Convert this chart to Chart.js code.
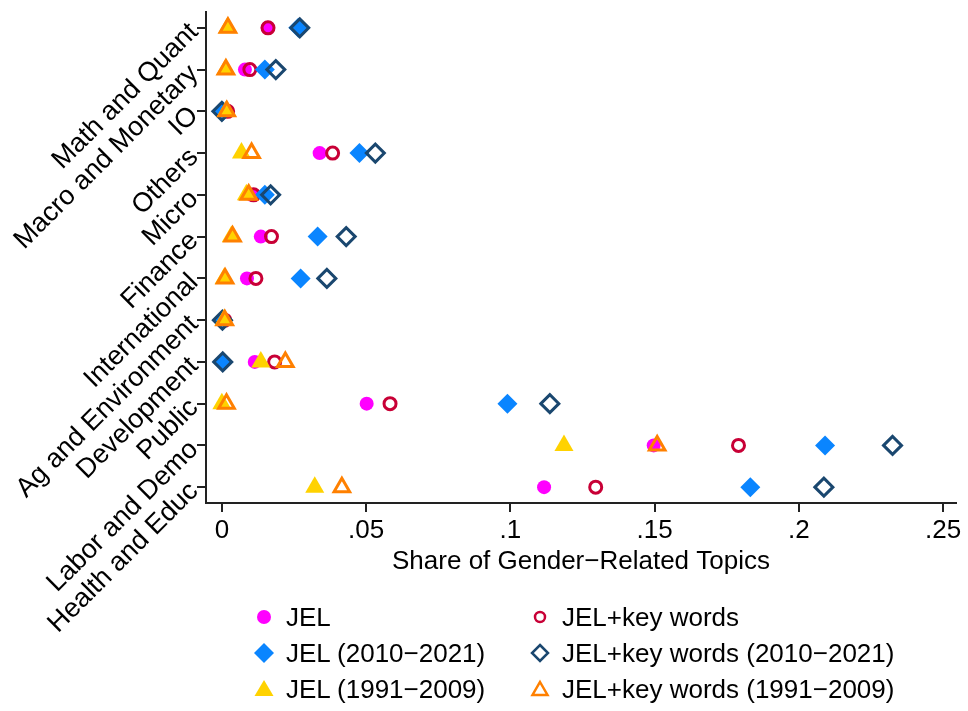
<!DOCTYPE html>
<html>
<head>
<meta charset="utf-8">
<script src="https://cdn.jsdelivr.net/npm/chart.js@4.4.1/dist/chart.umd.min.js"></script>
<style>
html,body{margin:0;padding:0;background:#fff;}
#wrap{position:relative;width:968px;height:711px;overflow:hidden;background:#fff;}
#c{position:absolute;left:0;top:0;}
.mk{position:absolute;width:24px;height:24px;}
.lt{position:absolute;font-family:"Liberation Sans",Arial,sans-serif;font-size:26px;line-height:26px;color:#000;white-space:nowrap;}
</style>
</head>
<body>
<div id="wrap">
<canvas id="c" width="968" height="711"></canvas>
<div id="legend"></div>
</div>
<script>
// Categories (top to bottom)
const categories = ["Math and Quant","Macro and Monetary","IO","Others","Micro","Finance","International","Ag and Environment","Development","Public","Labor and Demo","Health and Educ"];

// Series values (share of gender-related topics)
const jel        = [0.0159, 0.0080, 0.0015, 0.0339, 0.0103, 0.0135, 0.0087, 0.0008, 0.0114, 0.0502, 0.1497, 0.1117];
const jelKw      = [0.0160, 0.0097, 0.0020, 0.0384, 0.0110, 0.0172, 0.0118, 0.0010, 0.0183, 0.0583, 0.1791, 0.1296];
const jel2010    = [0.0265, 0.0149, 0.0003, 0.0477, 0.0149, 0.0332, 0.0273, 0.0003, 0.0003, 0.0990, 0.2091, 0.1832];
const jelKw2010  = [0.0270, 0.0187, 0.0000, 0.0532, 0.0169, 0.0431, 0.0364, 0.0002, 0.0003, 0.1137, 0.2325, 0.2087];
const jel1991    = [0.0020, 0.0013, 0.0015, 0.0068, 0.0085, 0.0033, 0.0008, 0.0007, 0.0135, 0.0000, 0.1186, 0.0322];
const jelKw1991  = [0.0021, 0.0014, 0.0017, 0.0103, 0.0093, 0.0037, 0.0011, 0.0010, 0.0220, 0.0016, 0.1509, 0.0416];

// Tick labels
const xTickValues = [0, 0.05, 0.1, 0.15, 0.2, 0.25];
const xTickLabels = ["0", ".05", ".1", ".15", ".2", ".25"];
const xTitle = "Share of Gender\u2212Related Topics";

const seriesNames = ["JEL", "JEL+key words", "JEL (2010\u22122021)", "JEL+key words (2010\u22122021)", "JEL (1991\u22122009)", "JEL+key words (1991\u22122009)"];

const FONT = "'Liberation Sans', Arial, Helvetica, sans-serif";

function pts(arr){ return arr.map((v,i)=>({x:v, y:i+1})); }

const styles = [
  {pointStyle:'circle',   radius:7,  bg:'#FF00FF', bc:'#FF00FF', bw:0, order:6},
  {pointStyle:'circle',   radius:6,  bg:'rgba(0,0,0,0)', bc:'#C80036', bw:3, order:5},
  {pointStyle:'rectRot',  radius:10, bg:'#0A85FF', bc:'#0A85FF', bw:0, order:4},
  {pointStyle:'rectRot',  radius:9,  bg:'rgba(0,0,0,0)', bc:'#1A476F', bw:3, order:3},
  {pointStyle:'triangle', radius:11, bg:'#FFD200', bc:'#FFD200', bw:0, order:2},
  {pointStyle:'triangle', radius:9,  bg:'rgba(0,0,0,0)', bc:'#FF8000', bw:3, order:1}
];
const seriesData = [jel, jelKw, jel2010, jelKw2010, jel1991, jelKw1991];

const datasets = seriesData.map((arr,k)=>({
  label: seriesNames[k],
  data: pts(arr),
  pointStyle: styles[k].pointStyle,
  pointRadius: styles[k].radius,
  pointBackgroundColor: styles[k].bg,
  pointBorderColor: styles[k].bc,
  pointBorderWidth: styles[k].bw,
  order: styles[k].order,
  showLine: false
}));

new Chart(document.getElementById('c'), {
  type: 'scatter',
  data: { datasets },
  options: {
    responsive: false,
    devicePixelRatio: 1,
    animation: false,
    events: [],
    layout: { padding: { left: 0, top: 10, right: 10, bottom: 134 } },
    plugins: { legend: { display: false }, tooltip: { enabled: false } },
    scales: {
      x: {
        type: 'linear',
        min: -0.0055,
        max: 0.2545,
        afterBuildTicks: s => { s.ticks = xTickValues.map(v=>({value:v})); },
        afterFit: s => { s.height = 74; s.paddingLeft = 0; s.paddingRight = 0; },
        ticks: {
          color: '#000',
          font: { family: FONT, size: 26 },
          padding: 3,
          maxRotation: 0, minRotation: 0,
          callback: (v) => { const i = xTickValues.findIndex(t=>Math.abs(t-v)<1e-9); return i>=0 ? xTickLabels[i] : ''; }
        },
        grid: { drawOnChartArea: false, drawTicks: true, tickLength: 9, color: '#222', lineWidth: 2 },
        border: { display: true, color: '#222', width: 2 },
        title: { display: true, text: xTitle, color: '#000', font: { family: FONT, size: 26 }, padding: { top: 0, bottom: 0 } }
      },
      y: {
        type: 'linear',
        reverse: true,
        min: 0.62,
        max: 12.38,
        afterBuildTicks: s => { s.ticks = categories.map((c,i)=>({value:i+1})); },
        afterFit: s => { s.width = 206; s.paddingTop = 0; s.paddingBottom = 0; },
        ticks: {
          color: '#000',
          font: { family: FONT, size: 27 },
          padding: 3,
          minRotation: 45, maxRotation: 45,
          autoSkip: false,
          callback: (v) => { const i = Math.round(v) - 1; return categories[i] || ''; }
        },
        grid: { drawOnChartArea: false, drawTicks: true, tickLength: 9, color: '#222', lineWidth: 2 },
        border: { display: true, color: '#222', width: 2 }
      }
    }
  }
});

// HTML legend (two columns, three rows)
const svgMarks = [
  '<circle cx="12" cy="12" r="7" fill="#FF00FF"/>',
  '<circle cx="12" cy="12" r="5" fill="none" stroke="#C80036" stroke-width="2.5"/>',
  '<polygon points="12,2 22,12 12,22 2,12" fill="#0A85FF"/>',
  '<polygon points="12,4 20,12 12,20 4,12" fill="none" stroke="#1A476F" stroke-width="2.5"/>',
  '<polygon points="12,3 21.5,19 2.5,19" fill="#FFD200"/>',
  '<polygon points="12,5 19.5,18 4.5,18" fill="none" stroke="#FF8000" stroke-width="2.5"/>'
];
const colX = [264, 540];
const rowY = [617, 653, 689];
const leg = document.getElementById('legend');
seriesNames.forEach((name,k)=>{
  const col = k % 2, row = Math.floor(k/2);
  const cx = colX[col], cy = rowY[row];
  const m = document.createElement('div');
  m.className = 'mk';
  m.style.left = (cx-12)+'px'; m.style.top = (cy-12)+'px';
  m.innerHTML = '<svg width="24" height="24" viewBox="0 0 24 24">'+svgMarks[k]+'</svg>';
  leg.appendChild(m);
  const t = document.createElement('div');
  t.className = 'lt';
  t.style.left = (cx+22)+'px'; t.style.top = (cy-13)+'px';
  t.textContent = name;
  leg.appendChild(t);
});
</script>
</body>
</html>
